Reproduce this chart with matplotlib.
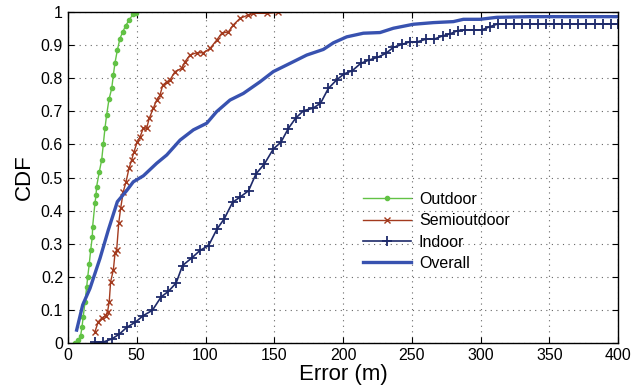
import matplotlib
matplotlib.use("Agg")
from matplotlib import pyplot as plt

plt.rcParams['font.family'] = ['Liberation Sans', 'DejaVu Sans']

# Outdoor CDF
outdoor_x = [5.1, 7.5, 9.2, 10.2, 11.1, 12.4, 13.6, 14.3, 15.5, 16.5, 17.7, 17.9,
             19.6, 20.4, 20.8, 22.8, 24.5, 25.7, 26.9, 28.1, 29.8, 31.8, 33.0,
             34.2, 35.9, 37.8, 39.8, 41.9, 44.4, 47.5, 49.5]
outdoor_y = [0.001, 0.009, 0.022, 0.049, 0.080, 0.125, 0.170, 0.198, 0.240, 0.281,
             0.321, 0.351, 0.422, 0.447, 0.472, 0.518, 0.553, 0.601, 0.649, 0.689,
             0.736, 0.769, 0.810, 0.847, 0.885, 0.920, 0.940, 0.958, 0.976, 0.994, 0.998]

# Semioutdoor CDF
semi_x = [19.6, 22.0, 24.5, 27.4, 28.8, 30.0, 31.0, 33.0, 34.2, 35.4, 36.9, 38.3,
          40.2, 42.2, 44.4, 46.3, 48.0, 50.4, 52.4, 54.8, 57.2, 59.1, 62.0, 64.5,
          66.9, 68.9, 71.8, 74.2, 77.8, 82.7, 85.1, 88.7, 93.6, 98.4, 103.3, 108.1,
          111.8, 116.6, 120.2, 125.1, 131.1, 134.8, 144.5, 153.0]
semi_y = [0.034, 0.064, 0.075, 0.083, 0.095, 0.125, 0.185, 0.221, 0.271, 0.281,
          0.362, 0.407, 0.457, 0.487, 0.528, 0.553, 0.578, 0.608, 0.623, 0.649,
          0.649, 0.679, 0.709, 0.734, 0.749, 0.779, 0.789, 0.795, 0.820, 0.830,
          0.850, 0.870, 0.877, 0.877, 0.890, 0.915, 0.936, 0.940, 0.961, 0.981,
          0.991, 0.996, 0.996, 0.999]

# Indoor CDF
indoor_x = [19.7, 25.7, 31.8, 37.4, 42.7, 49.0, 54.9, 61.4, 67.7, 73.0, 78.6, 83.3,
            90.0, 96.1, 102.2, 108.3, 113.6, 119.7, 125.2, 131.3, 136.7, 142.8,
            149.3, 154.9, 160.2, 165.5, 171.3, 178.0, 183.6, 189.3, 195.4, 200.7,
            206.8, 212.9, 218.9, 225.0, 231.1, 236.6, 242.7, 248.7, 254.0, 260.4,
            266.2, 272.5, 277.8, 283.5, 289.0, 295.0, 301.0, 307.0, 312.5, 318.4,
            324.2, 330.1, 336.0, 341.8, 347.7, 353.6, 359.4, 365.3, 371.2, 377.0,
            382.9, 388.8, 394.6, 400.0]
indoor_y = [0.003, 0.003, 0.012, 0.027, 0.047, 0.063, 0.083, 0.099, 0.139, 0.156,
            0.181, 0.234, 0.257, 0.280, 0.294, 0.344, 0.375, 0.425, 0.441, 0.460,
            0.511, 0.541, 0.586, 0.607, 0.648, 0.679, 0.702, 0.709, 0.724, 0.769,
            0.795, 0.813, 0.823, 0.845, 0.855, 0.863, 0.875, 0.893, 0.902, 0.910,
            0.910, 0.918, 0.918, 0.928, 0.934, 0.944, 0.946, 0.946, 0.946, 0.956,
            0.964, 0.964, 0.964, 0.964, 0.964, 0.964, 0.964, 0.964, 0.964, 0.964,
            0.964, 0.964, 0.964, 0.964, 0.964, 0.964]

# Overall CDF
overall_x = [6.3, 10.7, 16.0, 23.3, 29.3, 35.9, 42.6, 47.5, 54.8, 64.5, 71.8, 81.5,
             91.2, 100.9, 108.1, 117.8, 127.5, 139.6, 149.3, 161.5, 173.6, 185.7,
             193.0, 202.7, 214.8, 226.9, 236.6, 251.1, 265.7, 280.2, 287.5, 299.6,
             311.8, 336.0, 400.0]
overall_y = [0.039, 0.115, 0.165, 0.256, 0.341, 0.427, 0.460, 0.487, 0.505, 0.543,
             0.568, 0.613, 0.644, 0.664, 0.699, 0.734, 0.754, 0.789, 0.820, 0.845,
             0.870, 0.887, 0.907, 0.925, 0.936, 0.938, 0.951, 0.963, 0.968, 0.971,
             0.978, 0.978, 0.984, 0.986, 0.986]

fig = plt.figure(figsize=(6.33, 3.88), dpi=100)
ax = fig.add_axes([0.1074, 0.116, 0.869, 0.853])

ax.plot(outdoor_x, outdoor_y, '-', marker='.', color='#62c245', lw=1.0,
        markersize=6, label='Outdoor')
ax.plot(semi_x, semi_y, '-', marker='x', color='#a33a1e', lw=1.0,
        markersize=4, markeredgewidth=1.0, label='Semioutdoor')
ax.plot(indoor_x, indoor_y, '-', marker='+', color='#1e2a6a', lw=1.2,
        markersize=7, markeredgewidth=1.3, label='Indoor')
ax.plot(overall_x, overall_y, '-', color='#3852b0', lw=2.4, label='Overall')

ax.set_xlim(0, 400)
ax.set_ylim(0, 1)
ax.set_xticks(range(0, 401, 50))
ax.set_yticks([i / 10 for i in range(11)])
ax.set_yticklabels(['0', '0.1', '0.2', '0.3', '0.4', '0.5', '0.6', '0.7', '0.8', '0.9', '1'])
ax.tick_params(direction='in', top=True, right=True, labelsize=11.5, length=4)
ax.grid(True, linestyle=(0, (1, 4)), color='#666666', lw=0.8)
for s in ax.spines.values():
    s.set_linewidth(1.0)

ax.set_xlabel('Error (m)', fontsize=16, labelpad=1)
ax.set_ylabel('CDF', fontsize=16, labelpad=4)

leg = ax.legend(loc='upper left', bbox_to_anchor=(0.51, 0.5), frameon=False,
                fontsize=11.5, handlelength=3.0, numpoints=1, labelspacing=0.4,
                handletextpad=0.5)

fig.savefig('out.png', dpi=100)
